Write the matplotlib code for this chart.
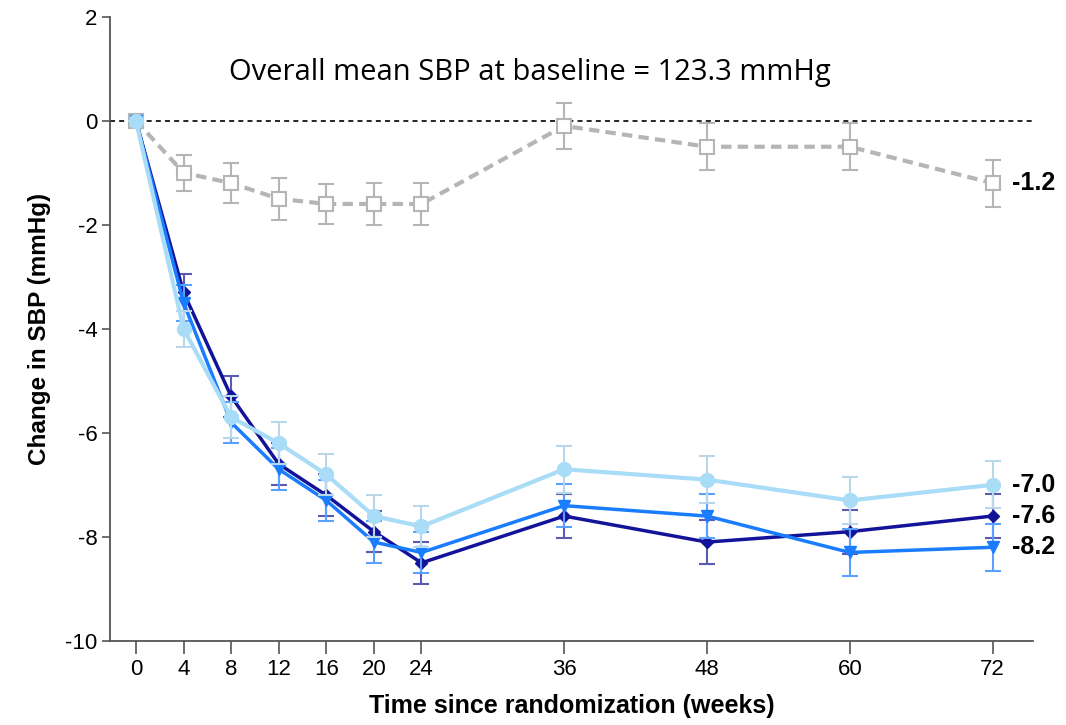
import matplotlib
matplotlib.use("Agg")
import matplotlib.pyplot as plt

# weeks since randomization
weeks = [0, 4, 8, 12, 16, 20, 24, 36, 48, 60, 72]

# mean change in SBP (mmHg) and error bar half-widths per arm
placebo = [0, -1.0, -1.2, -1.5, -1.6, -1.6, -1.6, -0.1, -0.5, -0.5, -1.2]
placebo_err = [0, 0.35, 0.38, 0.4, 0.38, 0.4, 0.4, 0.45, 0.45, 0.45, 0.45]

navy_arm = [0, -3.3, -5.3, -6.6, -7.2, -7.9, -8.5, -7.6, -8.1, -7.9, -7.6]
navy_err = [0, 0.35, 0.4, 0.4, 0.4, 0.4, 0.4, 0.42, 0.42, 0.42, 0.42]

blue_arm = [0, -3.5, -5.8, -6.7, -7.3, -8.1, -8.3, -7.4, -7.6, -8.3, -8.2]
blue_err = [0, 0.35, 0.4, 0.4, 0.4, 0.4, 0.4, 0.42, 0.42, 0.45, 0.45]

light_arm = [0, -4.0, -5.7, -6.2, -6.8, -7.6, -7.8, -6.7, -6.9, -7.3, -7.0]
light_err = [0, 0.35, 0.4, 0.4, 0.4, 0.4, 0.4, 0.45, 0.45, 0.45, 0.45]

end_labels = ["-1.2", "-7.0", "-7.6", "-8.2"]
end_values = [placebo[-1], light_arm[-1], navy_arm[-1], blue_arm[-1]]

yticks = [2, 0, -2, -4, -6, -8, -10]

gray = "#b5b5b5"
navy = "#13139a"
blue = "#1a7dff"
light = "#a8dcf7"

tick_font = ["Liberation Sans"]

fig = plt.figure(figsize=(10.66, 7.25), dpi=100)
ax = fig.add_axes([0.103, 0.116, 0.866, 0.861])

ax.axhline(0, color="black", lw=1.2, ls=(0, (3, 2.5)), zorder=1)

ax.errorbar(weeks, placebo, yerr=placebo_err, color=gray, lw=3, ls=(0, (2.5, 1.5)),
            marker="s", ms=10, mfc="white", mec=gray, mew=1.5,
            ecolor=gray, elinewidth=1.5, capsize=6, capthick=1.5, zorder=2)

ax.errorbar(weeks, navy_arm, yerr=navy_err, color=navy, lw=2.5,
            marker="D", ms=6, mfc=navy, mec=navy,
            ecolor="#5a5ab0", elinewidth=1.5, capsize=6, capthick=1.5, zorder=3)

ax.errorbar(weeks, blue_arm, yerr=blue_err, color=blue, lw=2.5,
            marker="v", ms=9, mfc=blue, mec=blue,
            ecolor="#5aa0ff", elinewidth=1.5, capsize=6, capthick=1.5, zorder=4)

ax.errorbar(weeks, light_arm, yerr=light_err, color=light, lw=3,
            marker="o", ms=10, mfc=light, mec=light,
            ecolor="#b8d8ea", elinewidth=1.5, capsize=6, capthick=1.5, zorder=5)

for lab, val in zip(end_labels, end_values):
    ax.text(73.6, val, lab, ha="left", va="center", fontsize=18,
            fontweight="bold", family=["Liberation Sans"])

ax.text(0.455, 0.91, "Overall mean SBP at baseline = 123.3 mmHg",
        transform=ax.transAxes, ha="center", va="center", fontsize=21,
        family=["Open Sans"])

ax.set_xlim(-2.2, 75.4)
ax.set_ylim(-10, 2)
ax.set_xticks(weeks)
ax.set_yticks(yticks)
ax.set_xticklabels([str(w) for w in weeks], family=tick_font, fontsize=16)
ax.set_yticklabels([str(t) for t in yticks], family=tick_font, fontsize=16)

for side in ["top", "right"]:
    ax.spines[side].set_visible(False)
for side in ["left", "bottom"]:
    ax.spines[side].set_color("#555555")
    ax.spines[side].set_linewidth(1.3)

ax.tick_params(axis="x", length=9, width=1.2, color="#555555", pad=4)
ax.tick_params(axis="y", length=6, width=1.2, color="#555555", pad=3)

ax.set_xlabel("Time since randomization (weeks)", fontsize=18,
              fontweight="bold", family=["Liberation Sans"], labelpad=10)
ax.set_ylabel("Change in SBP (mmHg)", fontsize=17.5, fontweight="bold",
              family=["Liberation Sans"], labelpad=10)

fig.savefig("out.png", dpi=100)
